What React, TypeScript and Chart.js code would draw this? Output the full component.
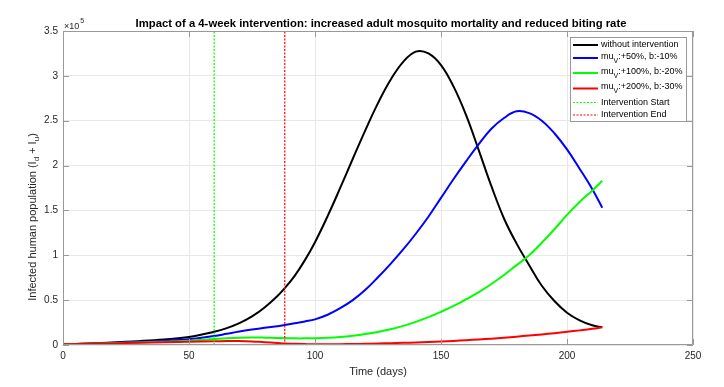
import React, { useEffect, useRef } from "react";
import { Chart, registerables } from "chart.js";

Chart.register(...registerables);

const days = [0, 10, 20, 30, 40, 50, 60, 65, 70, 75, 80, 85, 88, 92, 96, 100, 105, 110, 115, 120, 125, 130, 135, 140, 145, 150, 155, 160, 165, 170, 175, 180, 185, 190, 195, 200, 205, 210, 214];

const withoutIntervention = [800, 1600, 2800, 4300, 6200, 9000, 14800, 18800, 24300, 31800, 41800, 54300, 63300, 77400, 94600, 114600, 143600, 175100, 207600, 239600, 269600, 295600, 315600, 327000, 325000, 312000, 288000, 256000, 217000, 177000, 141000, 113000, 89000, 66000, 49000, 36000, 27500, 22000, 19700];

const mu50b10 = [800, 1400, 2400, 3600, 4800, 6300, 10000, 12500, 15000, 17200, 19200, 21000, 22200, 24300, 26300, 28600, 33700, 41000, 50000, 61500, 75500, 90500, 106500, 124000, 143000, 164000, 185000, 205000, 224000, 241000, 253000, 260500, 258500, 250000, 236000, 218000, 196500, 174000, 153000];

const mu100b20 = [800, 1300, 2000, 2800, 3700, 4800, 6700, 7600, 8200, 8400, 8200, 7800, 7600, 7400, 7400, 7500, 8000, 8900, 10300, 12200, 14600, 17600, 21300, 25800, 31000, 37000, 43500, 51000, 59000, 68000, 78000, 89000, 100000, 114000, 129000, 145000, 159500, 172000, 183000];

const mu200b30 = [800, 1300, 1800, 2500, 3100, 3700, 4100, 4500, 4500, 4000, 3100, 2300, 1800, 1300, 1000, 800, 800, 900, 1100, 1300, 1700, 2000, 2400, 2800, 3300, 3800, 4500, 5300, 6200, 7100, 8200, 9300, 10600, 11800, 13200, 14800, 16300, 18000, 19700];

const interventionStart = 60;
const interventionEnd = 88;

const xTicks = [0, 50, 100, 150, 200, 250];
const yTicks = [0, 50000, 100000, 150000, 200000, 250000, 300000, 350000];

const seriesLabels = ["without intervention", "+50%, b:-10%", "+100%, b:-20%", "+200%, b:-30%", "Intervention Start", "Intervention End"];

const FONT = '"Liberation Sans", Arial, Helvetica, sans-serif';
const AXIS_COLOR = "#999999";
const TEXT_COLOR = "#262626";

const toPoints = (ys: number[]) => ys.map((y, i) => ({ x: days[i], y }));

const overlayPlugin = {
  id: "matlabOverlay",
  afterDraw(chart: any) {
    const ctx = chart.ctx as CanvasRenderingContext2D;
    const { left, right, top, bottom } = chart.chartArea;
    const xs = chart.scales.x;
    const ys = chart.scales.y;
    ctx.save();
    ctx.strokeStyle = AXIS_COLOR;
    ctx.lineWidth = 1;
    ctx.beginPath();
    ctx.rect(Math.round(left) + 0.5, Math.round(top) + 0.5, Math.round(right - left) - 1, Math.round(bottom - top) - 1);
    ctx.stroke();
    const tl = 6;
    ctx.beginPath();
    xTicks.forEach((v) => {
      const px = Math.round(xs.getPixelForValue(v)) + 0.5;
      ctx.moveTo(px, bottom);
      ctx.lineTo(px, bottom - tl);
      ctx.moveTo(px, top);
      ctx.lineTo(px, top + tl);
    });
    yTicks.forEach((v) => {
      const py = Math.round(ys.getPixelForValue(v)) + 0.5;
      ctx.moveTo(left, py);
      ctx.lineTo(left + tl, py);
      ctx.moveTo(right, py);
      ctx.lineTo(right - tl, py);
    });
    ctx.stroke();

    ctx.fillStyle = "#000";
    ctx.font = `bold 11.3px ${FONT}`;
    ctx.textAlign = "center";
    ctx.textBaseline = "middle";
    ctx.fillText(
      "Impact of a 4-week intervention: increased adult mosquito mortality and reduced biting rate",
      (left + right) / 2 + 3,
      24
    );

    ctx.fillStyle = TEXT_COLOR;
    ctx.textAlign = "left";
    ctx.textBaseline = "alphabetic";
    ctx.font = `9px ${FONT}`;
    ctx.fillText("\u00d710", left + 1, 29);
    const w10 = ctx.measureText("\u00d710").width;
    ctx.font = `7px ${FONT}`;
    ctx.fillText("5", left + 1 + w10 + 1, 23);

    ctx.font = `11px ${FONT}`;
    ctx.textAlign = "center";
    ctx.textBaseline = "middle";
    ctx.fillText("Time (days)", (left + right) / 2, 372);

    ctx.save();
    ctx.translate(32, 217);
    ctx.rotate(-Math.PI / 2);
    const parts: [string, boolean][] = [
      ["Infected human population (I", false],
      ["d", true],
      [" + I", false],
      ["u", true],
      [")", false],
    ];
    const measure = (t: string, sub: boolean) => {
      ctx.font = sub ? `8px ${FONT}` : `11px ${FONT}`;
      return ctx.measureText(t).width;
    };
    const total = parts.reduce((a, [t, s]) => a + measure(t, s), 0);
    let cx = -total / 2;
    ctx.textAlign = "left";
    ctx.textBaseline = "alphabetic";
    parts.forEach(([t, s]) => {
      const w = measure(t, s);
      ctx.fillText(t, cx, s ? 7 : 4);
      cx += w;
    });
    ctx.restore();

    const lx = 570, ly = 37, lw = 116, lh = 84;
    ctx.fillStyle = "#fff";
    ctx.fillRect(lx, ly, lw, lh);
    ctx.strokeStyle = AXIS_COLOR;
    ctx.lineWidth = 1;
    ctx.strokeRect(lx + 0.5, ly + 0.5, lw, lh);
    const rows = [45, 58, 73, 88.5, 102.5, 115];
    const ds = chart.data.datasets;
    rows.forEach((ry, i) => {
      const d = ds[i];
      ctx.strokeStyle = d.borderColor;
      ctx.lineWidth = i < 4 ? 2 : 1;
      ctx.setLineDash(i < 4 ? [] : [2, 1.5]);
      ctx.beginPath();
      ctx.moveTo(573, ry);
      ctx.lineTo(598, ry);
      ctx.stroke();
      ctx.setLineDash([]);
      ctx.fillStyle = "#000";
      ctx.textAlign = "left";
      ctx.textBaseline = "middle";
      ctx.font = `9px ${FONT}`;
      if (i >= 1 && i <= 3) {
        ctx.fillText("mu", 601, ry - 1.5);
        const wm = ctx.measureText("mu").width;
        ctx.font = `7px ${FONT}`;
        ctx.fillText("V", 601 + wm, ry + 3);
        const wv = ctx.measureText("V").width;
        ctx.font = `9px ${FONT}`;
        ctx.fillText(":" + seriesLabels[i], 601 + wm + wv, ry - 1.5);
      } else {
        ctx.fillText(seriesLabels[i], 601, ry);
      }
    });
    ctx.restore();
  },
};

export default function App() {
  const ref = useRef<HTMLCanvasElement | null>(null);
  useEffect(() => {
    document.body.style.margin = "0";
    if (!ref.current) return;
    const curve = { borderWidth: 2, pointRadius: 0, tension: 0.4 };
    const chart = new Chart(ref.current, {
      type: "line",
      data: {
        datasets: [
          { label: seriesLabels[0], data: toPoints(withoutIntervention), borderColor: "#000000", ...curve, order: 6 },
          { label: seriesLabels[1], data: toPoints(mu50b10), borderColor: "#0000ff", ...curve, order: 5 },
          { label: seriesLabels[2], data: toPoints(mu100b20), borderColor: "#00ff00", ...curve, order: 4 },
          { label: seriesLabels[3], data: toPoints(mu200b30), borderColor: "#ff0000", ...curve, order: 3 },
          { label: seriesLabels[4], data: [{ x: interventionStart, y: 0 }, { x: interventionStart, y: 350000 }], borderColor: "#00ff00", borderWidth: 1.2, borderDash: [2, 1.5], pointRadius: 0, order: 2 },
          { label: seriesLabels[5], data: [{ x: interventionEnd, y: 0 }, { x: interventionEnd, y: 350000 }], borderColor: "#ff0000", borderWidth: 1.2, borderDash: [2, 1.5], pointRadius: 0, order: 1 },
        ],
      } as any,
      options: {
        animation: false,
        responsive: false,
        maintainAspectRatio: false,
        layout: { padding: { left: 8, right: 31, top: 31, bottom: 0 } },
        plugins: { legend: { display: false }, title: { display: false }, tooltip: { enabled: false } },
        scales: {
          x: {
            type: "linear",
            min: 0,
            max: 250,
            afterFit: (s: any) => { s.height = 42; },
            afterBuildTicks: (s: any) => { s.ticks = xTicks.map((v) => ({ value: v })); },
            ticks: { color: TEXT_COLOR, font: { family: FONT, size: 10 }, padding: 5, maxRotation: 0 },
            grid: { color: "#e8e8e8", drawTicks: false, tickLength: 0 },
            border: { display: false },
          },
          y: {
            type: "linear",
            min: 0,
            max: 350000,
            afterFit: (s: any) => { s.width = 55; },
            afterBuildTicks: (s: any) => { s.ticks = yTicks.map((v) => ({ value: v })); },
            ticks: { color: TEXT_COLOR, font: { family: FONT, size: 10 }, padding: 5, callback: (v: any) => String(Number(v) / 100000) },
            grid: { color: "#e8e8e8", drawTicks: false, tickLength: 0 },
            border: { display: false },
          },
        },
      } as any,
      plugins: [overlayPlugin],
    });
    return () => chart.destroy();
  }, []);
  return (
    <div style={{ position: "fixed", left: 0, top: 0, width: 724, height: 387, background: "#fff" }}>
      <canvas ref={ref} width={724} height={387} style={{ display: "block" }} />
    </div>
  );
}
